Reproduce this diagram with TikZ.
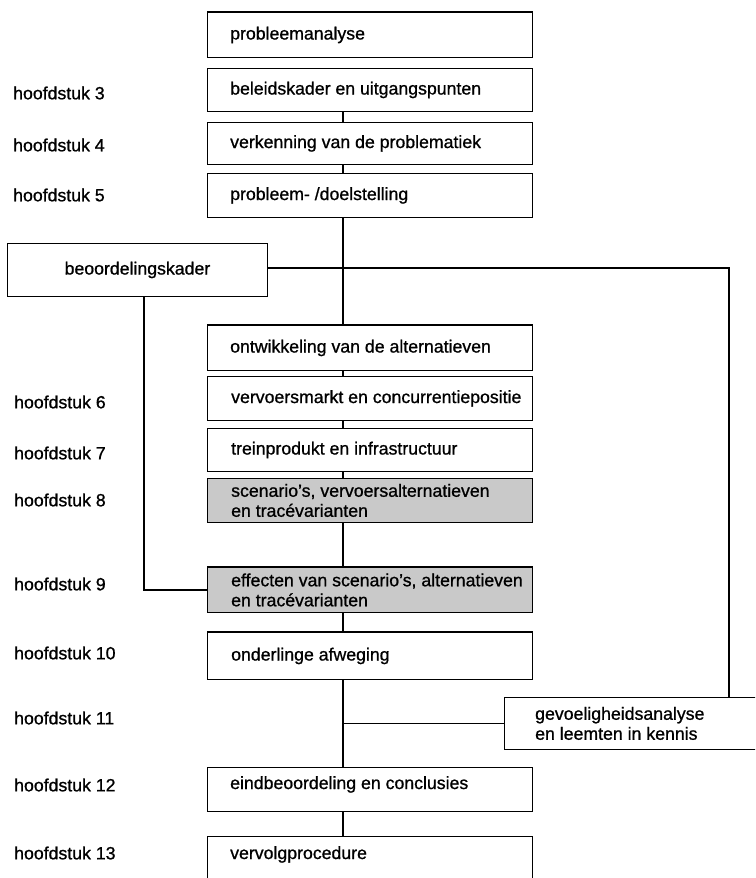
\documentclass[tikz,border=0pt]{standalone}
\usepackage{fontspec}
\setmainfont{Liberation Sans}[FakeBold=0.9]
\begin{document}
\begin{tikzpicture}[x=1pt,y=-1pt,
  box/.style={draw, line width=0.9pt, minimum width=325pt, anchor=north west, inner sep=0pt},
  greybox/.style={box, fill=gray!42},
  txt/.style={anchor=west, inner sep=0pt, align=left, font=\fontsize{17.7}{20}\selectfont},
  lbl/.style={anchor=west, inner sep=0pt, font=\fontsize{17.7}{20}\selectfont},
  conn/.style={line width=1.3pt},
  thicktop/.style={line width=2.6pt}]
\useasboundingbox (0,0) rectangle (755,878);
\clip (0,0) rectangle (755,878);
\fill[white] (0,0) rectangle (755,878);
\coordinate (v) at (343,0);
% main boxes
\node[box, minimum height=45pt] (b1) at (207,12) {};
\node[box, minimum height=43pt] (b2) at (207,68) {};
\node[box, minimum height=42pt] (b3) at (207,122) {};
\node[box, minimum height=44pt] (b4) at (207,173) {};
\node[box, minimum height=45pt] (b5) at (207,325) {};
\node[box, minimum height=44pt] (b6) at (207,376) {};
\node[box, minimum height=43pt] (b7) at (207,428) {};
\node[greybox, minimum height=44pt] (b8) at (207,478) {};
\node[greybox, minimum height=45pt] (b9) at (207,567) {};
\node[box, minimum height=47pt] (b10) at (207,632) {};
\node[box, minimum height=44pt] (b12) at (207,767) {};
\node[box, draw=none, minimum height=36pt] (b13) at (207,836) {};
\draw[line width=0.9pt] ([yshift=-40pt]b13.south west) -- (b13.north west) -- (b13.north east) -- ([yshift=-40pt]b13.south east);
% side boxes
\node[draw, line width=0.9pt, anchor=north west, minimum width=260pt, minimum height=53pt, inner sep=0pt,
      font=\fontsize{17.7}{20}\selectfont] (bk) at (7,243) {beoordelingskader};
\node[draw, line width=0.9pt, anchor=north west, minimum width=270pt, minimum height=52pt, inner sep=0pt] (gv) at (504,697) {};
% thick tops
\draw[thicktop] (b1.north west) -- (b1.north east);
\draw[thicktop] (b5.north west) -- (b5.north east);
\draw[thicktop] (b9.north west) -- (b9.north east);
\draw[thicktop] (b10.north west) -- (b10.north east);
% texts
\node[txt] (t1) at ([xshift=23pt]b1.west) {probleemanalyse};
\node[txt] (t2) at ([xshift=23pt]b2.west) {beleidskader en uitgangspunten};
\node[txt] (t3) at ([xshift=23pt]b3.west) {verkenning van de problematiek};
\node[txt] (t4) at ([xshift=23pt]b4.west) {probleem- /doelstelling};
\node[txt] (t5) at ([xshift=23pt]b5.west) {ontwikkeling van de alternatieven};
\node[txt] (t6) at ([xshift=24pt]b6.west) {vervoersmarkt en concurrentiepositie};
\node[txt] (t7) at ([xshift=24pt]b7.west) {treinprodukt en infrastructuur};
\node[txt] (t8) at ([xshift=24pt]b8.west) {scenario's, vervoersalternatieven\\en tracévarianten};
\node[txt] (t9) at ([xshift=24pt]b9.west) {effecten van scenario's, alternatieven\\en tracévarianten};
\node[txt] (t10) at ([xshift=24pt]b10.west) {onderlinge afweging};
\node[txt] (t12) at ([xshift=23pt,yshift=5pt]b12.west) {eindbeoordeling en conclusies};
\node[txt] (t13) at ([xshift=23pt]b13.west) {vervolgprocedure};
\node[txt] (tg) at ([xshift=31pt]gv.west) {gevoeligheidsanalyse\\en leemten in kennis};
% chapter labels
\node[lbl] (h3) at (13,93) {hoofdstuk 3};
\node[lbl] (h4) at (13,145) {hoofdstuk 4};
\node[lbl] (h5) at (13,195) {hoofdstuk 5};
\node[lbl] (h6) at (14,402) {hoofdstuk 6};
\node[lbl] (h7) at (14,453) {hoofdstuk 7};
\node[lbl] (h8) at (14,500) {hoofdstuk 8};
\node[lbl] (h9) at (14,584) {hoofdstuk 9};
\node[lbl] (h10) at (14,653) {hoofdstuk 10};
\node[lbl] (h11) at (14,718) {hoofdstuk 11};
\node[lbl] (h12) at (14,785) {hoofdstuk 12};
\node[lbl] (h13) at (14,853) {hoofdstuk 13};
% connectors
\draw[conn] (b2.south -| v) -- (b3.north -| v);
\draw[conn] (b3.south -| v) -- (b4.north -| v);
\draw[conn] (b4.south -| v) -- (b5.north -| v);
\draw[conn] (b5.south -| v) -- (b6.north -| v);
\draw[conn] (b6.south -| v) -- (b7.north -| v);
\draw[conn] (b7.south -| v) -- (b8.north -| v);
\draw[conn] (b8.south -| v) -- (b9.north -| v);
\draw[conn] (b9.south -| v) -- (b10.north -| v);
\draw[conn] (b10.south -| v) -- (b12.north -| v);
\draw[conn] (b12.south -| v) -- (b13.north -| v);
\draw[conn] (gv.west -| v) -- (gv.west);
\coordinate (c1) at (729,268);
\draw[conn] (bk.east |- c1) -- (c1) -- (c1 |- gv.north);
\coordinate (c2) at (144,296);
\draw[conn] (c2) -- (c2 |- b9.west) -- (b9.west);
\end{tikzpicture}
\end{document}
